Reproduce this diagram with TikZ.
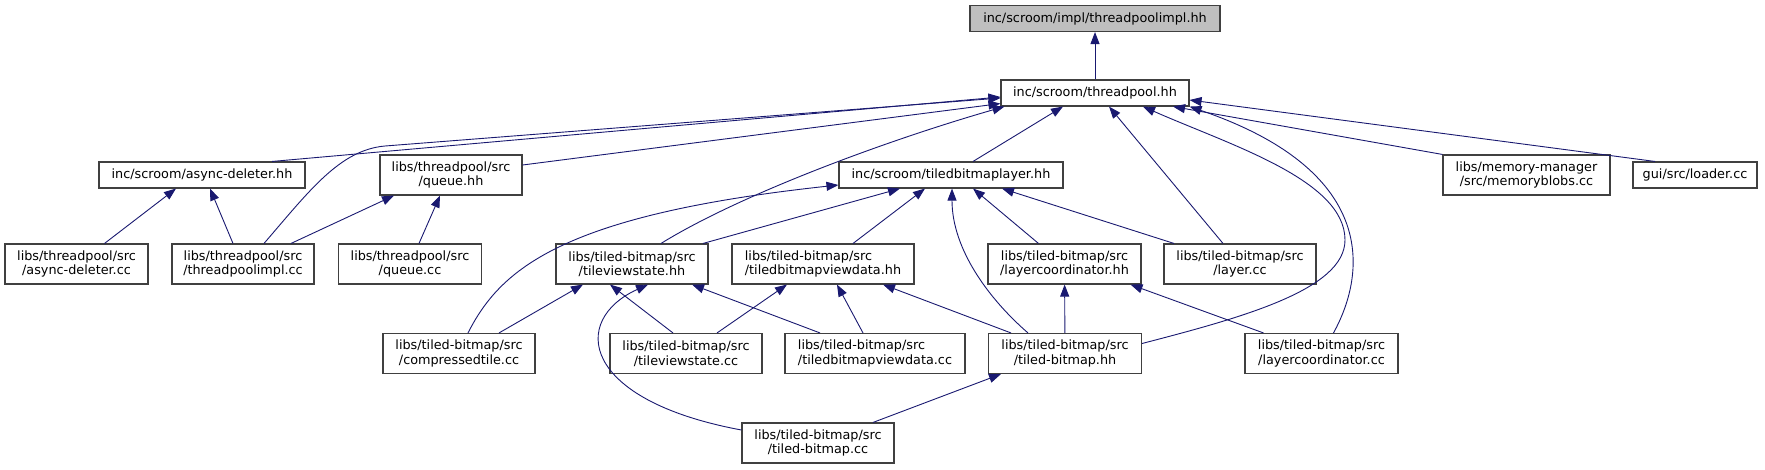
\documentclass[tikz,border=0pt]{standalone}
\usepackage{fontspec}
\setmainfont{DejaVu Sans}
\usetikzlibrary{arrows.meta}
\definecolor{midnight}{HTML}{191970}

\begin{document}
\begin{tikzpicture}[x=1pt, y=-1pt,
        file/.style={draw=black!75, line width=1.1pt, fill=white, inner sep=0pt, align=center,
            minimum height=26pt, font=\fontsize{12.8}{14.5}\selectfont},
        two/.style={minimum height=40pt},
        inc/.style={draw=midnight, line width=0.9pt, -{Triangle[length=12pt,width=9pt]}}]
            \useasboundingbox (0,0) rectangle (1765,469);
            \node[file, fill=black!25, minimum width=250pt] (root) at (1095,18.5) {inc/scroom/impl/threadpoolimpl.hh};
            \node[file, minimum width=188pt] (tp) at (1095,93) {inc/scroom/threadpool.hh};
            \node[file, minimum width=206pt] (ad) at (202,175) {inc/scroom/async-deleter.hh};
            \node[file, two, minimum width=142pt] (qh) at (451,175) {libs/threadpool/src\\/queue.hh};
            \node[file, minimum width=224pt] (tbl) at (951,175) {inc/scroom/tiledbitmaplayer.hh};
            \node[file, two, minimum width=167pt] (mb) at (1526.5,175) {libs/memory-manager\\/src/memoryblobs.cc};
            \node[file, minimum width=124pt] (ld) at (1695,175) {gui/src/loader.cc};
            \node[file, two, minimum width=143pt] (adcc) at (76.5,264) {libs/threadpool/src\\/async-deleter.cc};
            \node[file, two, minimum width=142pt] (tpi) at (243,264) {libs/threadpool/src\\/threadpoolimpl.cc};
            \node[file, two, minimum width=143pt] (qcc) at (410,264) {libs/threadpool/src\\/queue.cc};
            \node[file, two, minimum width=152pt] (tvsh) at (632,264) {libs/tiled-bitmap/src\\/tileviewstate.hh};
            \node[file, two, minimum width=182pt, align=left] (tvdh) at (823,264) {libs/tiled-bitmap/src\\/tiledbitmapviewdata.hh};
            \node[file, two, minimum width=153pt] (lch) at (1064.5,264) {libs/tiled-bitmap/src\\/layercoordinator.hh};
            \node[file, two, minimum width=152pt] (lay) at (1240,264) {libs/tiled-bitmap/src\\/layer.cc};
            \node[file, two, minimum width=152pt] (ct) at (459,353.5) {libs/tiled-bitmap/src\\/compressedtile.cc};
            \node[file, two, minimum width=152pt] (tvsc) at (686,353.5) {libs/tiled-bitmap/src\\/tileviewstate.cc};
            \node[file, two, minimum width=180pt, align=left] (tvdc) at (875,353.5) {libs/tiled-bitmap/src\\/tiledbitmapviewdata.cc};
            \node[file, two, minimum width=153pt] (tbh) at (1065,353.5) {libs/tiled-bitmap/src\\/tiled-bitmap.hh};
            \node[file, two, minimum width=153pt] (lcc) at (1321.5,353.5) {libs/tiled-bitmap/src\\/layercoordinator.cc};
            \node[file, two, minimum width=152pt] (tbc) at (818,443) {libs/tiled-bitmap/src\\/tiled-bitmap.cc};
            \draw[inc] (tp) -- (root);
            \draw[inc] ([xshift=70pt]ad.north) -- ([yshift=-4pt]tp.west);
            \draw[inc] ([xshift=21pt]tpi.north) .. controls (310,190) and (340,150) .. (385,146) -- ([yshift=-5pt]tp.west);
            \draw[inc] ([yshift=10pt]qh.east) -- ([yshift=3pt]tp.south west);
            \draw[inc] ([xshift=29pt]tvsh.north) .. controls (741,194) and (888,140) .. ([xshift=4pt]tp.south west);
            \draw[inc] ([xshift=22pt]tbl.north) -- ([xshift=-32pt]tp.south);
            \draw[inc] ([xshift=-17pt]lay.north) -- ([xshift=14pt]tp.south);
            \draw[inc] ([yshift=10pt]tbh.east) .. controls (1240,318) and (1345,290) .. (1345,240)
                .. controls (1345,180) and (1230,145) .. ([xshift=48pt]tp.south);
            \draw[inc] ([xshift=12pt]lcc.north) .. controls (1368,270) and (1375,170) .. (tp.south east);
            \draw[inc] (mb.north west) -- ([xshift=78pt]tp.south);
            \draw[inc] ([xshift=-40pt]ld.north) -- ([yshift=-7pt]tp.east);
            \draw[inc] ([xshift=28pt]adcc.north) -- ([xshift=-26pt]ad.south);
            \draw[inc] ([xshift=-10pt]tpi.north) -- ([xshift=8pt]ad.south);
            \draw[inc] ([xshift=48pt]tpi.north) -- ([xshift=-57pt]qh.south);
            \draw[inc] ([xshift=9pt]qcc.north) -- ([xshift=-11pt]qh.south);
            \draw[inc] ([xshift=9pt]ct.north) .. controls (500,270) and (560,215) .. ([yshift=-10pt]tbl.west);
            \draw[inc] ([xshift=71pt]tvsh.north) -- ([xshift=-51pt]tbl.south);
            \draw[inc] ([xshift=30pt]tvdh.north) -- ([xshift=-26pt]tbl.south);
            \draw[inc] ([xshift=-37pt]tbh.north) .. controls (990,300) and (952,250) .. ([xshift=1pt]tbl.south);
            \draw[inc] ([xshift=-26pt]lch.north) -- ([xshift=22pt]tbl.south);
            \draw[inc] ([xshift=-66pt]lay.north) -- ([xshift=51pt]tbl.south);
            \draw[inc] ([xshift=40pt]ct.north) -- ([xshift=-49pt]tvsh.south);
            \draw[inc] ([xshift=-13pt]tvsc.north) -- ([xshift=-22pt]tvsh.south);
            \draw[inc] ([yshift=13pt]tbc.west) .. controls (580,400) and (570,320) .. ([xshift=16pt]tvsh.south);
            \draw[inc] ([xshift=-55pt]tvdc.north) -- ([xshift=60pt]tvsh.south);
            \draw[inc] ([xshift=31pt]tvsc.north) -- ([xshift=-36pt]tvdh.south);
            \draw[inc] ([xshift=-12pt]tvdc.north) -- ([xshift=14pt]tvdh.south);
            \draw[inc] ([xshift=-54pt]tbh.north) -- ([xshift=60pt]tvdh.south);
            \draw[inc] (tbh) -- (lch);
            \draw[inc] ([xshift=-58pt]lcc.north) -- ([xshift=66pt]lch.south);
            \draw[inc] ([xshift=55pt]tbc.north) -- ([xshift=-64pt]tbh.south);
        \end{tikzpicture}
\end{document}
